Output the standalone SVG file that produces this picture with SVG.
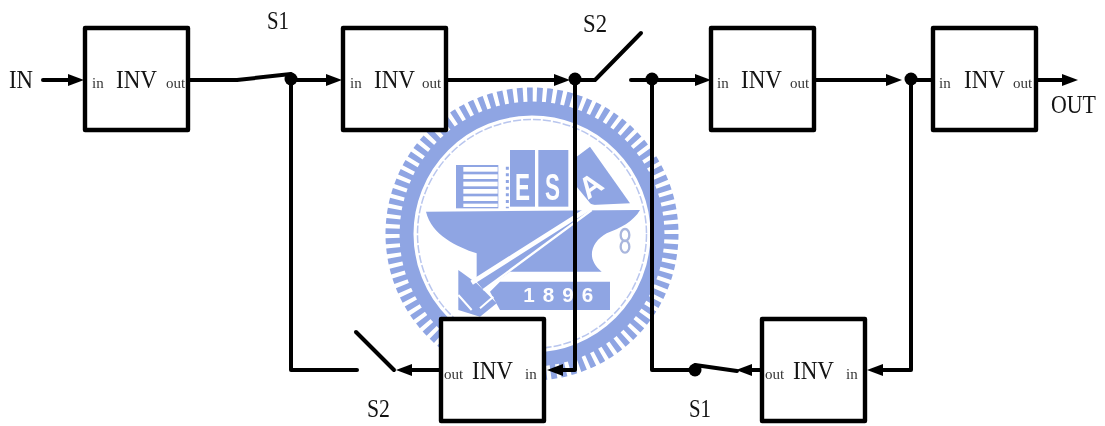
<svg xmlns="http://www.w3.org/2000/svg" width="1105" height="426" viewBox="0 0 1105 426">
<style>
text{font-family:"Liberation Serif","Times New Roman",serif;fill:#111;opacity:.99}
.big{font-size:26px}
.sm{font-size:15px;fill:#333}
.box{fill:#fff;stroke:#000;stroke-width:4.4;stroke-linejoin:round}
.w{fill:#8fa5e3}
.wt{font-family:"Liberation Sans",Arial,sans-serif;font-weight:bold;fill:#fff}
.c{fill:none;stroke:#000;stroke-width:4;stroke-linecap:round;stroke-linejoin:round}
.d{fill:#000}
</style>
<defs>
<marker id="a" markerUnits="userSpaceOnUse" markerWidth="18" markerHeight="14" refX="9" refY="7" orient="auto"><path d="M0 1 L16 7 L0 13 Z" fill="#000"/></marker>
<filter id="soft" x="-5%" y="-5%" width="110%" height="110%"><feGaussianBlur stdDeviation="0.6"/></filter>
</defs>
<rect width="1105" height="426" fill="#fff"/>
<g id="watermark" filter="url(#soft)">
<circle cx="532" cy="234" r="139" fill="none" stroke="#8fa5e3" stroke-width="15" stroke-dasharray="5.6 4.1"/>
<circle cx="532" cy="234" r="125.5" fill="none" stroke="#8fa5e3" stroke-width="14"/>
<circle cx="532" cy="234" r="114.5" fill="none" stroke="#b9c6ee" stroke-width="1.5" stroke-dasharray="8 2"/>
<g transform="translate(400 90) scale(.33333)">
<rect class="w" x="168" y="225" width="127" height="130"/>
<g fill="#fff"><rect x="190" y="231" width="103" height="14"/><rect x="190" y="253" width="103" height="14"/><rect x="190" y="275" width="103" height="14"/><rect x="190" y="297" width="103" height="14"/><rect x="190" y="319" width="103" height="14"/><rect x="190" y="341" width="103" height="10"/></g>
<path d="M322 230V355" stroke="#8fa5e3" stroke-width="9" stroke-dasharray="9 11" fill="none"/>
<rect class="w" x="330" y="180" width="75" height="170"/>
<rect class="w" x="415" y="180" width="90" height="170"/>
<path class="w" d="M530 200L570 170L690 340L575 345L530 290Z"/>
<path class="w" d="M78 365L720 360C700 395 660 415 620 430C575 455 555 505 605 545H330L250 600L230 575V490C170 470 95 435 78 365Z"/>
<path class="w" d="M175 540L230 580L290 640L240 680L175 660Z"/>
<path class="w" d="M300 575H630V660H300L270 605Z"/>
<path d="M215 578L575 350L540 340" fill="none" stroke="#fff" stroke-width="14"/>
<path d="M250 600L575 360" fill="none" stroke="#fff" stroke-width="7"/>
<path d="M175 615L215 660M240 655L280 620" fill="none" stroke="#fff" stroke-width="6"/>
<text class="wt" x="345" y="330" font-size="112" textLength="45" lengthAdjust="spacingAndGlyphs">E</text>
<text class="wt" x="435" y="330" font-size="112" textLength="45" lengthAdjust="spacingAndGlyphs">S</text>
<text class="wt" transform="translate(590 312) rotate(-35)" font-size="90" text-anchor="middle">A</text>
<text class="wt" x="370" y="637" font-size="62" textLength="210" lengthAdjust="spacing">1896</text>
<g fill="none" stroke="#a9b6dd" stroke-width="7"><ellipse cx="675" cy="435" rx="13" ry="18"/><ellipse cx="675" cy="470" rx="13" ry="18"/></g>
</g>
</g>
<g id="connectors">
<path class="c" d="M43 80H77" marker-end="url(#a)"/>
<path class="c" d="M188 80H237L291 74"/>
<path class="c" d="M291 80H335" marker-end="url(#a)"/>
<path class="c" d="M291 80V370H357"/>
<path class="c" d="M356 332L394 370"/>
<path class="c" d="M441 370H403" marker-end="url(#a)"/>
<path class="c" d="M446 80H563" marker-end="url(#a)"/>
<path class="c" d="M575 80H595L641 33"/>
<path class="c" d="M575 80V370H554" marker-end="url(#a)"/>
<path class="c" d="M631 80H704" marker-end="url(#a)"/>
<path class="c" d="M652 80V370H695"/>
<path class="c" d="M695 365L737 371"/>
<path class="c" d="M762 370H743" marker-end="url(#a)"/>
<path class="c" d="M814 80H895" marker-end="url(#a)"/>
<path class="c" d="M911 80H933"/>
<path class="c" d="M911 80V370H874" marker-end="url(#a)"/>
<path class="c" d="M1036 80H1071" marker-end="url(#a)"/>
<circle class="d" cx="291" cy="79" r="6.5"/>
<circle class="d" cx="575" cy="79" r="6.5"/>
<circle class="d" cx="652" cy="79" r="6.5"/>
<circle class="d" cx="911" cy="79" r="6.5"/>
<circle class="d" cx="695" cy="370" r="6.5"/>
</g>
<g id="inv1"><rect class="box" x="85" y="28" width="103" height="102"/><text class="sm" x="92" y="88">in</text><text class="big" x="116" y="88" textLength="41" lengthAdjust="spacingAndGlyphs">INV</text><text class="sm" x="166" y="88">out</text></g>
<g id="inv2"><rect class="box" x="343" y="28" width="103" height="102"/><text class="sm" x="350" y="88">in</text><text class="big" x="374" y="88" textLength="41" lengthAdjust="spacingAndGlyphs">INV</text><text class="sm" x="422" y="88">out</text></g>
<g id="inv3"><rect class="box" x="711" y="28" width="103" height="102"/><text class="sm" x="717" y="88">in</text><text class="big" x="741" y="88" textLength="41" lengthAdjust="spacingAndGlyphs">INV</text><text class="sm" x="790" y="88">out</text></g>
<g id="inv4"><rect class="box" x="933" y="28" width="103" height="102"/><text class="sm" x="939" y="88">in</text><text class="big" x="964" y="88" textLength="41" lengthAdjust="spacingAndGlyphs">INV</text><text class="sm" x="1013" y="88">out</text></g>
<g id="inv5"><rect class="box" x="441" y="319" width="103" height="102"/><text class="sm" x="444" y="379">out</text><text class="big" x="472" y="379" textLength="41" lengthAdjust="spacingAndGlyphs">INV</text><text class="sm" x="525" y="379">in</text></g>
<g id="inv6"><rect class="box" x="762" y="319" width="103" height="102"/><text class="sm" x="765" y="379">out</text><text class="big" x="793" y="379" textLength="41" lengthAdjust="spacingAndGlyphs">INV</text><text class="sm" x="846" y="379">in</text></g>
<g id="labels">
<text class="big" x="9" y="88" textLength="24" lengthAdjust="spacingAndGlyphs">IN</text>
<text class="big" x="1051" y="113" textLength="45" lengthAdjust="spacingAndGlyphs">OUT</text>
<text class="big" x="267" y="29" textLength="22" lengthAdjust="spacingAndGlyphs">S1</text>
<text class="big" x="583" y="32" textLength="24" lengthAdjust="spacingAndGlyphs">S2</text>
<text class="big" x="367" y="417" textLength="23" lengthAdjust="spacingAndGlyphs">S2</text>
<text class="big" x="689" y="417" textLength="22" lengthAdjust="spacingAndGlyphs">S1</text>
</g>
</svg>
